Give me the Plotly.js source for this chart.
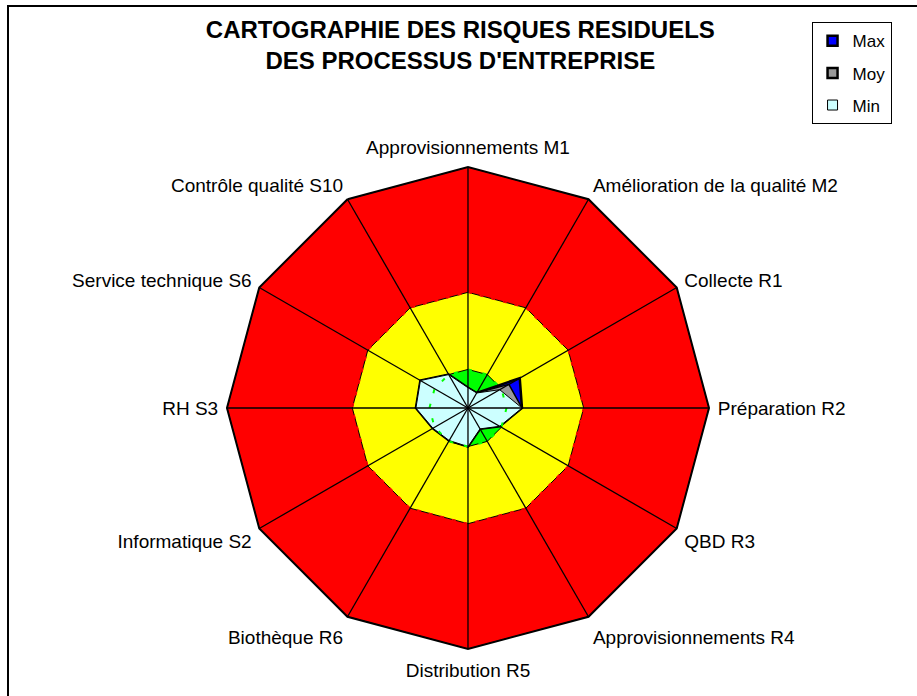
<!DOCTYPE html>
<html>
<head>
<meta charset="utf-8">
<script src="https://cdn.plot.ly/plotly-3.0.1.min.js"></script>
<style>
    body { margin: 0; background: #ffffff; }
    #chart { position: absolute; left: 0; top: 0; width: 917px; height: 696px; }
    #frame {
        position: absolute; left: 7px; top: 5px; width: 1000px; height: 1000px;
        border-left: 2px solid #000; border-top: 2px solid #000;
        pointer-events: none; z-index: 10;
    }
</style>
</head>
<body>
<div id="chart"></div>
<div id="frame"></div>
<script>
// Process axes, clockwise from the top
const categories = [
    'Approvisionnements M1', 'Amélioration de la qualité M2', 'Collecte R1',
    'Préparation R2', 'QBD R3', 'Approvisionnements R4', 'Distribution R5',
    'Biothèque R6', 'Informatique S2', 'RH S3', 'Service technique S6',
    'Contrôle qualité S10'
];

// Risk zones (scale 0 - 25)
const redZone = [25, 25, 25, 25, 25, 25, 25, 25, 25, 25, 25, 25];
const yellowZone = [12, 12, 12, 12, 12, 12, 12, 12, 12, 12, 12, 12];
const greenZone = [4, 4, 4, 4, 4, 4, 4, 4, 4, 4, 4, 4];

// Residual risk per process
const maxValues = [2.1, 1.8, 6.2, 5.6, 3.8, 2.5, 4.0, 3.9, 4.2, 5.4, 5.7, 4.0];
const moyValues = [2.1, 1.8, 4.9, 5.6, 3.8, 2.5, 4.0, 3.9, 4.2, 5.4, 5.7, 4.0];
const minValues = [2.1, 1.8, 3.8, 5.6, 3.8, 2.5, 4.0, 3.9, 4.2, 5.4, 5.7, 4.0];

// Legend entries
const seriesNames = ['Max', 'Moy', 'Min'];
const seriesColors = ['#0000FF', '#999999', '#CCFFFF'];
const seriesBorders = [2.5, 2.5, 1];

// close a polygon by repeating the first point
function closed(arr) {
    return arr.concat([arr[0]]);
}

function area(values, fillColor, lineWidth) {
    return {
        type: 'scatterpolar',
        r: closed(values),
        theta: closed(categories),
        mode: 'lines',
        fill: 'toself',
        fillcolor: fillColor,
        line: { color: '#000000', width: lineWidth },
        showlegend: false,
        hoverinfo: 'skip'
    };
}

function outline(values, color, dash, width) {
    return {
        type: 'scatterpolar',
        r: closed(values),
        theta: closed(categories),
        mode: 'lines',
        line: { color: color, dash: dash, width: width },
        showlegend: false,
        hoverinfo: 'skip'
    };
}

// spokes drawn on top of the filled areas
const spokeR = [];
const spokeTheta = [];
categories.forEach(function(cat, i) {
    spokeR.push(0, redZone[i], null);
    spokeTheta.push(cat, cat, cat);
});

const traces = [
    area(redZone, '#FF0000', 1),
    area(yellowZone, '#FFFF00', 1),
    outline(yellowZone, '#FF0000', '4px,8px', 1.5),
    area(greenZone, '#00FF00', 1),
    area(maxValues, seriesColors[0], 2.5),
    area(moyValues, seriesColors[1], 1.5),
    area(minValues, seriesColors[2], 1),
    outline(greenZone, '#00FF00', '4px,11px', 2),
    {
        type: 'scatterpolar',
        r: spokeR,
        theta: spokeTheta,
        mode: 'lines',
        connectgaps: false,
        line: { color: '#000000', width: 1.3 },
        showlegend: false,
        hoverinfo: 'skip'
    }
];

// square swatches for the legend
seriesNames.forEach(function(name, i) {
    traces.push({
        type: 'scatterpolar',
        r: [null],
        theta: [categories[0]],
        mode: 'markers',
        name: name,
        legendgroup: name,
        marker: {
            symbol: 'square',
            size: 10,
            color: seriesColors[i],
            line: { color: '#000000', width: seriesBorders[i] }
        },
        hoverinfo: 'skip'
    });
});

const layout = {
    width: 917,
    height: 696,
    margin: { l: 0, r: 0, t: 0, b: 0 },
    paper_bgcolor: '#FFFFFF',
    font: { family: 'Liberation Sans, Arial, sans-serif', color: '#000000' },
    title: {
        text: 'CARTOGRAPHIE DES RISQUES RESIDUELS<br>DES PROCESSUS D\'ENTREPRISE',
        font: { size: 24, weight: 'bold', color: '#000000' },
        x: 0.502,
        xanchor: 'center',
        y: 0.945,
        yref: 'container',
        yanchor: 'middle'
    },
    showlegend: true,
    legend: {
        x: 0.885,
        y: 0.968,
        xanchor: 'left',
        yanchor: 'top',
        bgcolor: '#FFFFFF',
        bordercolor: '#000000',
        borderwidth: 1,
        font: { size: 17 },
        itemwidth: 30,
        traceorder: 'grouped',
        tracegroupgap: 7
    },
    polar: {
        domain: { x: [0.2475, 0.7732], y: [0.0675, 0.7601] },
        bgcolor: 'rgba(0,0,0,0)',
        gridshape: 'linear',
        radialaxis: {
            range: [0, 25],
            visible: false,
            showgrid: false
        },
        angularaxis: {
            type: 'category',
            categoryarray: categories,
            direction: 'clockwise',
            rotation: 90,
            showgrid: false,
            showline: true,
            linecolor: '#000000',
            linewidth: 2,
            ticks: 'outside',
            ticklen: 4,
            tickcolor: 'rgba(0,0,0,0)',
            tickfont: { size: 19, color: '#000000' }
        }
    }
};

Plotly.newPlot('chart', traces, layout, { displayModeBar: false, staticPlot: true });
</script>
</body>
</html>
